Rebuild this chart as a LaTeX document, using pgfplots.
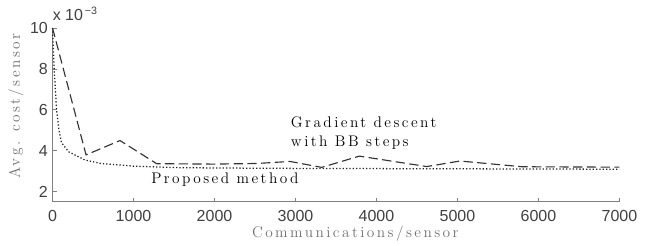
\documentclass[border=0pt]{standalone}
\usepackage{fontspec}
\setsansfont{Liberation Sans}
\usepackage{pgfplots}
\pgfplotsset{compat=1.18}
\newfontfamily\spfont{Latin Modern Roman}[LetterSpace=16]
\definecolor{axgray}{HTML}{808080}
\definecolor{lblgray}{HTML}{707070}
\definecolor{tickgray}{HTML}{404040}
\definecolor{linegray}{HTML}{333333}
\definecolor{dotgray}{HTML}{222222}
\begin{document}
\begin{tikzpicture}
\begin{axis}[
  width=425.25pt, height=130.5pt, scale only axis,
  xmin=0, xmax=7000, ymin=1.5, ymax=10,
  axis x line*=bottom, axis y line*=left,
  x axis line style={-}, y axis line style={-},
  axis line style={axgray, line width=0.75pt},
  xtick={0,1000,...,7000}, ytick={2,4,6,8,10},
  tick style={axgray, line width=0.6pt},
  tick align=inside, major tick length=3pt,
  ticklabel style={font=\sffamily\fontsize{12}{14}\selectfont, text=tickgray},
  xticklabel style={yshift=-3pt},
  /pgf/number format/assume math mode=true,
  scaled ticks=false,
  xticklabel style={/pgf/number format/1000 sep={}},
  xlabel={Communications/sensor},
  ylabel={Avg. cost/sensor},
  label style={font=\spfont\fontsize{11.5}{12}\selectfont, text=lblgray},
  xlabel style={at={(axis description cs:0.534,-0.207)}, anchor=base},
  ylabel style={at={(axis description cs:-0.0574,0.552)}, anchor=base},
  clip=false,
]
\addplot[linegray, line width=0.85pt, dash pattern=on 7pt off 3.3pt] coordinates {
(0,10) (414,3.8) (833,4.5) (1286,3.37) (2000,3.35) (2520,3.38) (2932,3.48)
(3323,3.19) (3788,3.74) (4620,3.23) (5031,3.50) (5800,3.22) (7000,3.2)};
\addplot[dotgray, line width=0.95pt, dash pattern=on 0.95pt off 1.55pt] coordinates {
(0,10) (20,8) (50,6) (80,5) (110,4.4) (200,3.95) (400,3.55) (600,3.38)
(1000,3.25) (1500,3.18) (2000,3.16) (3000,3.14) (5000,3.12) (7000,3.1)};
\node[anchor=base west, font=\sffamily\fontsize{12}{14}\selectfont, text=tickgray, inner sep=0pt]
  at ([yshift=5.5pt]rel axis cs:0,1) {x 10\textsuperscript{\,−3}};
\node[anchor=base west, font=\spfont\fontsize{11.5}{12}\selectfont, inner sep=0pt]
  at (axis cs:2941,5.14) {Gradient descent};
\node[anchor=base west, font=\spfont\fontsize{11.5}{12}\selectfont, inner sep=0pt]
  at (axis cs:2941,4.21) {with BB steps};
\node[anchor=base west, font=\spfont\fontsize{11.5}{12}\selectfont, inner sep=0pt]
  at (axis cs:1216,2.42) {Proposed method};
\end{axis}
\pgfresetboundingbox
\useasboundingbox ([shift={(-39.4pt,-33pt)}]current axis.south west) rectangle ([shift={(24.4pt,21pt)}]current axis.north east);
\end{tikzpicture}
\end{document}
